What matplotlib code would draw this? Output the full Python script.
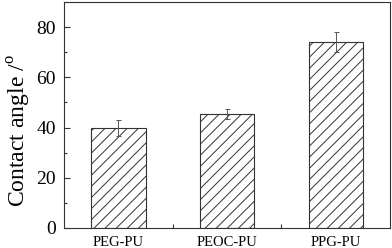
import matplotlib
matplotlib.use("Agg")
import matplotlib.pyplot as plt
from matplotlib.ticker import MultipleLocator, FixedLocator

categories = ["PEG-PU", "PEOC-PU", "PPG-PU"]
values = [40.0, 45.5, 74.0]
errors = [3.2, 2.0, 4.0]
yticks = [0, 20, 40, 60, 80]

plt.rcParams['font.family'] = ['Liberation Serif', 'DejaVu Serif']
plt.rcParams['hatch.color'] = '#666666'
plt.rcParams['hatch.linewidth'] = 0.7

fig = plt.figure(figsize=(3.92, 2.48), dpi=100)
ax = fig.add_axes([64/392, 1-228/248, (390-64)/392, (228-2)/248])

x = list(range(len(categories)))
ax.bar(x, values, width=0.5, color='white', edgecolor='#333333', linewidth=0.8,
       hatch='///', zorder=2)
ax.errorbar(x, values, yerr=errors, fmt='none', ecolor='#555555', elinewidth=0.7,
            capsize=1.8, capthick=0.7, zorder=3)

ax.set_xlim(-0.5, 2.5)
ax.set_ylim(0, 90)
ax.set_xticks(x)
ax.set_xticklabels(categories, fontsize=10.5)
ax.xaxis.set_minor_locator(FixedLocator([0.5, 1.5]))
ax.set_yticks(yticks)
ax.yaxis.set_minor_locator(MultipleLocator(10))
ax.tick_params(axis='both', which='both', direction='in', color='#333333')
ax.tick_params(axis='y', which='major', length=4, width=0.8, labelsize=14, pad=6)
ax.tick_params(axis='y', which='minor', length=2, width=0.8)
ax.tick_params(axis='x', which='major', length=3, width=0.8, pad=6)
ax.tick_params(axis='x', which='minor', length=3, width=0.8)
for s in ax.spines.values():
    s.set_color('#333333')
    s.set_linewidth(0.8)
ax.set_ylabel('Contact angle /$^{\\mathregular{o}}$', fontsize=17)
ax.yaxis.set_label_coords(-0.095, 0.43)

fig.savefig('out.png', dpi=100)
